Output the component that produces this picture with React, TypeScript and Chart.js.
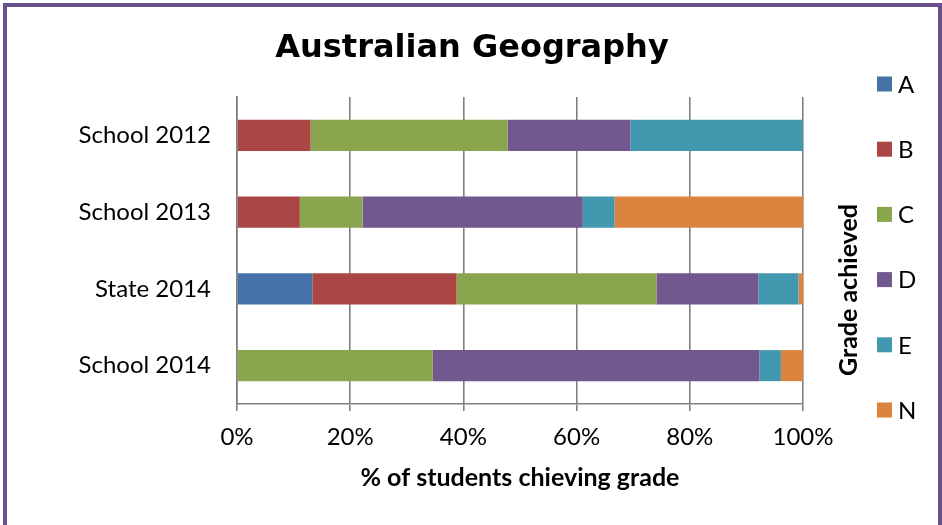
import React, { useEffect, useRef } from "react";
import { Chart, registerables } from "chart.js";
Chart.register(...registerables);

const categories = ["School 2012", "School 2013", "State 2014", "School 2014"];
const gradeLabels = ["A", "B", "C", "D", "E", "N"];
const gradeA = [0, 0, 13.3, 0];
const gradeB = [13.0, 11.1, 25.5, 0];
const gradeC = [34.8, 11.1, 35.3, 34.6];
const gradeD = [21.7, 38.9, 18.0, 57.7];
const gradeE = [30.5, 5.6, 7.1, 3.8];
const gradeN = [0, 33.3, 0.8, 3.9];
const gradeColors = ["#4572A7", "#AA4643", "#89A54E", "#71588F", "#4198AF", "#DB843D"];
const xTickValues = [0, 20, 40, 60, 80, 100];

const TITLE = "Australian Geography";
const X_TITLE = "% of students chieving grade";
const LEGEND_TITLE = "Grade achieved";

const FONT = "Lato, 'Open Sans', sans-serif";

const sideDecor = {
  id: "sideDecor",
  afterDraw(chart: any) {
    const ctx = chart.ctx;
    ctx.save();
    // chart title
    ctx.fillStyle = "#000";
    ctx.font = "bold 32px 'DejaVu Sans', sans-serif";
    ctx.textAlign = "center";
    ctx.textBaseline = "middle";
    ctx.fillText(TITLE, 472, 49);
    // legend
    const ds = chart.data.datasets;
    const top = 84;
    const step = 65.2;
    ds.forEach((d: any, i: number) => {
      const cy = top + step * i;
      ctx.fillStyle = d.backgroundColor;
      ctx.fillRect(877, cy - 7.5, 15, 15);
      ctx.fillStyle = "#000";
      ctx.font = `24px ${FONT}`;
      ctx.textBaseline = "middle";
      ctx.textAlign = "left";
      ctx.fillText(d.label, 898, cy + 1);
    });
    ctx.translate(849, 290);
    ctx.rotate(-Math.PI / 2);
    ctx.font = `bold 25px ${FONT}`;
    ctx.textAlign = "center";
    ctx.textBaseline = "middle";
    ctx.fillStyle = "#000";
    ctx.fillText(LEGEND_TITLE, 0, 0);
    ctx.restore();
  },
};

export default function App() {
  const ref = useRef<HTMLCanvasElement | null>(null);
  useEffect(() => {
    if (!ref.current) return;
    const series = [gradeA, gradeB, gradeC, gradeD, gradeE, gradeN];
    const chart = new Chart(ref.current, {
      type: "bar",
      data: {
        labels: categories,
        datasets: series.map((s, i) => ({
          label: gradeLabels[i],
          data: s,
          backgroundColor: gradeColors[i],
          borderWidth: 0,
          barPercentage: 0.405,
          categoryPercentage: 1,
        })),
      },
      options: {
        indexAxis: "y",
        responsive: false,
        animation: false,
        layout: { padding: { left: 0, right: 139, top: 97, bottom: 0 } },
        plugins: {
          legend: { display: false },
          tooltip: { enabled: false },
          title: { display: false },
        },
        scales: {
          x: {
            stacked: true,
            min: 0,
            max: 100,
            afterBuildTicks: (scale: any) => {
              scale.ticks = xTickValues.map((v) => ({ value: v }));
            },
            afterFit: (scale: any) => {
              scale.height = 121;
            },
            grid: { color: "#808080", lineWidth: 1.6, tickLength: 7, drawTicks: true },
            border: { color: "#808080", width: 1.6 },
            ticks: {
              color: "#000",
              padding: 12,
              font: { family: FONT, size: 24 },
              callback: (v: any) => v + "%",
            },
            title: {
              display: true,
              text: X_TITLE,
              color: "#000",
              font: { family: FONT, size: 25, weight: "bold" },
              padding: { top: 0, bottom: 32 },
            },
          },
          y: {
            stacked: true,
            afterFit: (scale: any) => {
              scale.width = 237;
            },
            grid: { display: false },
            border: { color: "#808080", width: 1.6 },
            ticks: { color: "#000", padding: 18, font: { family: FONT, size: 24 } },
          },
        },
      },
      plugins: [sideDecor],
    });
    return () => chart.destroy();
  }, []);
  return (
    <div style={{ position: "fixed", left: 0, top: 0, width: 942, height: 525, overflow: "hidden", background: "#fff" }}>
      <canvas ref={ref} width={942} height={525} style={{ position: "absolute", left: 0, top: 0 }} />
      <div
        style={{
          position: "absolute",
          left: 3,
          top: 3,
          width: 931,
          height: 560,
          border: "4px solid #67508c",
          pointerEvents: "none",
        }}
      />
    </div>
  );
}
